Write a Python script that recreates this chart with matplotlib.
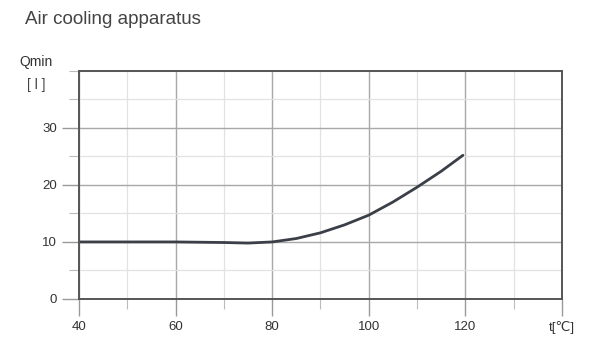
import matplotlib
matplotlib.use('agg')
import matplotlib.pyplot as plt
from matplotlib.ticker import MultipleLocator

# values
temperature = [40, 50, 60, 70, 75, 80, 85, 90, 95, 100, 105, 110, 115, 119.5]
q_min = [10, 10, 10, 9.9, 9.8, 10.0, 10.6, 11.6, 13.0, 14.7, 17.0, 19.6, 22.4, 25.2]
x_ticks = [40, 60, 80, 100, 120, 140]
x_tick_labels = ["40", "60", "80", "100", "120", "t[\u2103]"]
y_ticks = [0, 10, 20, 30]

plt.rcParams['font.family'] = ['Liberation Sans', 'DejaVu Sans']

fig = plt.figure(figsize=(5.94, 3.46), dpi=100)
axis = fig.add_axes([0.133, 0.136, 0.813, 0.659])

axis.plot(temperature, q_min, color="#3a3f48", linewidth=2.0, solid_capstyle="round")

axis.set_xlim(40, 140)
axis.set_ylim(0, 40)
axis.set_xticks(x_ticks)
axis.set_xticklabels(x_tick_labels)
axis.set_yticks(y_ticks)
axis.xaxis.set_minor_locator(MultipleLocator(10))
axis.yaxis.set_minor_locator(MultipleLocator(5))

axis.grid(which="major", color="#a8a8a8", linewidth=1.0)
axis.grid(which="minor", color="#e2e2e2", linewidth=0.9)
axis.set_axisbelow(True)

for spine in axis.spines.values():
    spine.set_color("#555555")
    spine.set_linewidth(1.4)

axis.tick_params(which="major", length=12, width=1.0, color="#999999",
                 labelsize=9.5, labelcolor="#333333", pad=4)
axis.tick_params(which="minor", length=7, width=0.8, color="#bbbbbb")

fig.text(0.042, 0.945, "Air cooling apparatus", fontsize=13.5, color="#444444",
         ha="left", va="center")
fig.text(0.033, 0.82, "Qmin", fontsize=10, color="#333333", ha="left", va="center")
fig.text(0.045, 0.755, "[ l ]", fontsize=10, color="#444444", ha="left", va="center")

fig.savefig("out.png", dpi=100)
